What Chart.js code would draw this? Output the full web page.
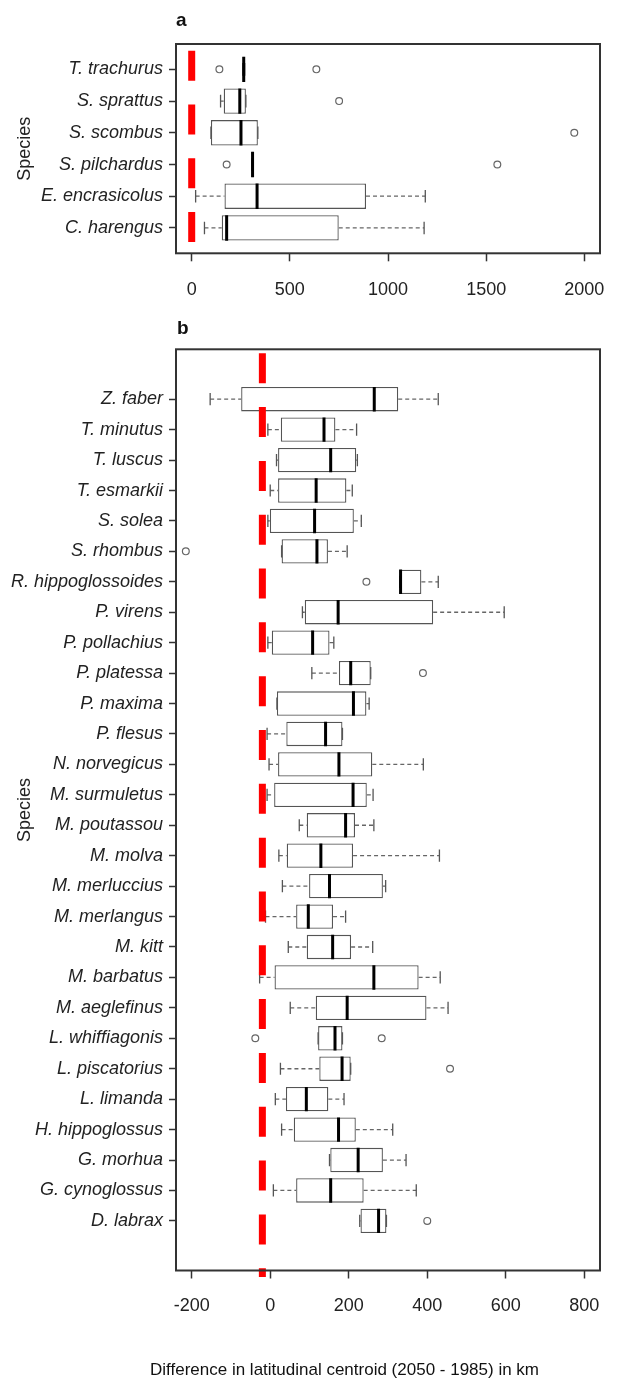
<!DOCTYPE html>
<html>
<head>
<meta charset="utf-8">
<script src="https://cdn.jsdelivr.net/npm/chart.js@4.4.1/dist/chart.umd.min.js"></script>
<style>
html,body{margin:0;padding:0;background:#fff;}
body{width:627px;height:1380px;position:relative;overflow:hidden;font-family:'Liberation Sans',Arial,sans-serif;}
.wrap{position:absolute;left:0;width:627px;}
.lab{position:absolute;font-weight:bold;font-size:19px;color:#111;line-height:normal;}
#xt{position:absolute;left:150px;top:1360px;font-size:17px;color:#111;white-space:nowrap;line-height:normal;}
</style>
</head>
<body>
<div class="wrap" style="top:0;height:305px"><canvas id="ca"></canvas></div>
<div class="wrap" style="top:305px;height:1075px"><canvas id="cb"></canvas></div>
<div class="lab" style="left:176px;top:9px">a</div>
<div class="lab" style="left:177px;top:317px">b</div>
<div id="xt">Difference in latitudinal centroid (2050 - 1985) in km</div>
<script>
// ---------- Panel a data (bottom -> top) ----------
const speciesA = ['C. harengus','E. encrasicolus','S. pilchardus','S. scombus','S. sprattus','T. trachurus'];
const lowA  = [65, 20, 306, 98, 147, 260];
const q1A   = [153, 167, 306, 98, 163, 260];
const medA  = [178, 333, 310, 251, 245, 265];
const q3A   = [749, 888, 314, 337, 276, 270];
const highA = [1184, 1190, 314, 337, 276, 270];
const outSpeciesA = ['S. pilchardus','S. pilchardus','S. scombus','S. sprattus','T. trachurus','T. trachurus'];
const outValuesA  = [178, 1557, 1949, 751, 141, 635];
const xTicksA = [0, 500, 1000, 1500, 2000];
const refLineA = 0;

// ---------- Panel b data (bottom -> top) ----------
const speciesB = ['D. labrax','G. cynoglossus','G. morhua','H. hippoglossus','L. limanda','L. piscatorius',
  'L. whiffiagonis','M. aeglefinus','M. barbatus','M. kitt','M. merlangus','M. merluccius','M. molva',
  'M. poutassou','M. surmuletus','N. norvegicus','P. flesus','P. maxima','P. platessa','P. pollachius',
  'P. virens','R. hippoglossoides','S. rhombus','S. solea','T. esmarkii','T. luscus','T. minutus','Z. faber'];
const lowB  = [228, 8, 151, 29, 13, 26, 122, 51, -27, 46, -12, 31, 22, 74, -8, -3, -8, 17, 106, -6, 82, 330, 29, -6, 0, 16, -6, -153];
const q1B   = [230, 66, 153, 60, 40, 125, 122, 116, 11, 93, 66, 99, 42, 93, 10, 20, 41, 17, 175, 4, 88, 330, 29, -1, 20, 20, 27, -74];
const medB  = [276, 154, 224, 174, 92, 183, 165, 196, 264, 159, 97, 151, 129, 192, 211, 175, 141, 212, 205, 108, 173, 332, 119, 113, 117, 154, 137, 265];
const q3B   = [296, 238, 287, 218, 148, 205, 184, 398, 378, 206, 160, 287, 211, 216, 246, 260, 184, 245, 256, 151, 415, 385, 147, 213, 194, 219, 166, 326];
const highB = [296, 372, 346, 312, 188, 205, 184, 453, 433, 261, 192, 294, 431, 264, 262, 390, 184, 252, 256, 162, 596, 428, 196, 232, 209, 222, 220, 428];
const outSpeciesB = ['D. labrax','L. piscatorius','L. whiffiagonis','L. whiffiagonis','P. platessa','R. hippoglossoides','S. rhombus'];
const outValuesB  = [400, 458, -38, 284, 389, 245, -215];
const xTicksB = [-200, 0, 200, 400, 600, 800];
const refLineB = -20;

const FONT = "'Liberation Sans', Arial, sans-serif";

const framePlugin = {
  id: 'frame',
  afterDraw(chart) {
    const {ctx, chartArea: a} = chart;
    ctx.save();
    ctx.strokeStyle = '#333';
    ctx.lineWidth = 2;
    ctx.strokeRect(a.left, a.top, a.right - a.left, a.bottom - a.top);
    ctx.restore();
  }
};

function buildPanel(canvasId, cfg) {
  const pos = cfg.species.map((s, i) => i + 1);
  const boxes = pos.map((p, i) => ({x: [cfg.q1[i], cfg.q3[i]], y: p}));
  const whiskers = [];
  pos.forEach((p, i) => {
    whiskers.push({x: cfg.low[i], y: p}, {x: cfg.q1[i], y: p}, {x: null, y: null});
    whiskers.push({x: cfg.q3[i], y: p}, {x: cfg.high[i], y: p}, {x: null, y: null});
  });
  const caps = [];
  pos.forEach((p, i) => { caps.push({x: cfg.low[i], y: p}, {x: cfg.high[i], y: p}); });
  const medians = pos.map((p, i) => ({x: cfg.med[i], y: p}));
  const outliers = cfg.outSpecies.map((s, k) => ({x: cfg.outValues[k], y: cfg.species.indexOf(s) + 1}));
  const refLine = [{x: cfg.ref, y: cfg.refTop}, {x: cfg.ref, y: cfg.refBottom}];

  return new Chart(document.getElementById(canvasId), {
    type: 'bar',
    data: {
      datasets: [
        {type: 'line', data: refLine, borderColor: '#ff0000', borderWidth: 7, borderDash: cfg.refDash,
         pointRadius: 0, clip: false, fill: false},
        {type: 'scatter', data: medians, pointStyle: 'line', rotation: 90, pointRadius: cfg.medR,
         borderColor: '#000', pointBorderColor: '#000', pointBorderWidth: 3},
        {type: 'scatter', data: outliers, pointStyle: 'circle', pointRadius: 3.4,
         pointBorderColor: '#666', pointBackgroundColor: '#fff', pointBorderWidth: 1.2},
        {type: 'scatter', data: caps, pointStyle: 'line', rotation: 90, pointRadius: cfg.capR,
         pointBorderColor: '#555', pointBorderWidth: 1.3},
        {type: 'line', data: whiskers, borderColor: '#666', borderWidth: 1.3, borderDash: [4, 3],
         pointRadius: 0, spanGaps: false, fill: false},
        {type: 'bar', indexAxis: 'y', data: boxes, backgroundColor: '#fff', borderColor: '#555',
         borderWidth: 1.3, borderSkipped: false, categoryPercentage: 0.8, barPercentage: 1}
      ]
    },
    options: {
      indexAxis: 'y',
      responsive: true,
      maintainAspectRatio: false,
      animation: false,
      events: [],
      layout: {padding: {top: cfg.padTop, right: 27, left: 0, bottom: 0}},
      plugins: {legend: {display: false}, tooltip: {enabled: false}, title: {display: false}},
      scales: {
        x: {
          type: 'linear', min: cfg.xMin, max: cfg.xMax, offset: false, bounds: 'data',
          afterBuildTicks: ax => { ax.ticks = cfg.xTicks.map(v => ({value: v})); },
          grid: {offset: false, drawOnChartArea: false, drawTicks: true, tickLength: 8, tickColor: '#333', tickWidth: 1.5},
          border: {display: false},
          ticks: {font: {family: FONT, size: 18}, color: '#222', padding: cfg.xPad, maxRotation: 0, autoSkip: false,
                  callback: v => String(v)},
          afterFit: ax => { ax.height = cfg.xH; }
        },
        y: {
          type: 'linear', min: cfg.yMin, max: cfg.yMax, offset: false, bounds: 'data',
          afterBuildTicks: ax => { ax.ticks = pos.map(v => ({value: v})); },
          grid: {offset: false, drawOnChartArea: false, drawTicks: true, tickLength: 7, tickColor: '#333', tickWidth: 1.5},
          border: {display: false},
          ticks: {font: {family: FONT, size: 18, style: 'italic'}, color: '#222', padding: 6, autoSkip: false,
                  callback: v => cfg.species[Math.round(v) - 1]},
          title: {display: true, text: 'Species', font: {family: FONT, size: 18}, color: '#222',
                  padding: {top: 14, bottom: 0}},
          afterFit: ax => { ax.width = 176; }
        }
      }
    },
    plugins: [framePlugin]
  });
}

buildPanel('ca', {
  species: speciesA, low: lowA, q1: q1A, med: medA, q3: q3A, high: highA,
  outSpecies: outSpeciesA, outValues: outValuesA, xTicks: xTicksA, ref: refLineA,
  refTop: 6.59, refBottom: 0.2, refDash: [30, 23.8],
  xMin: -80, xMax: 2080, yMin: 0.2, yMax: 6.8,
  padTop: 44, xH: 305 - 253.3, xPad: 18, medR: 12.7, capR: 6.3
});

buildPanel('cb', {
  species: speciesB, low: lowB, q1: q1B, med: medB, q3: q3B, high: highB,
  outSpecies: outSpeciesB, outValues: outValuesB, xTicks: xTicksB, ref: refLineB,
  refTop: 29.51, refBottom: -0.84, refDash: [30, 23.82],
  xMin: -240, xMax: 840, yMin: -0.63, yMax: 29.64,
  padTop: 349.3 - 305, xH: 1380 - 1270.5, xPad: 17, medR: 12.2, capR: 6.1
});
</script>
</body>
</html>
